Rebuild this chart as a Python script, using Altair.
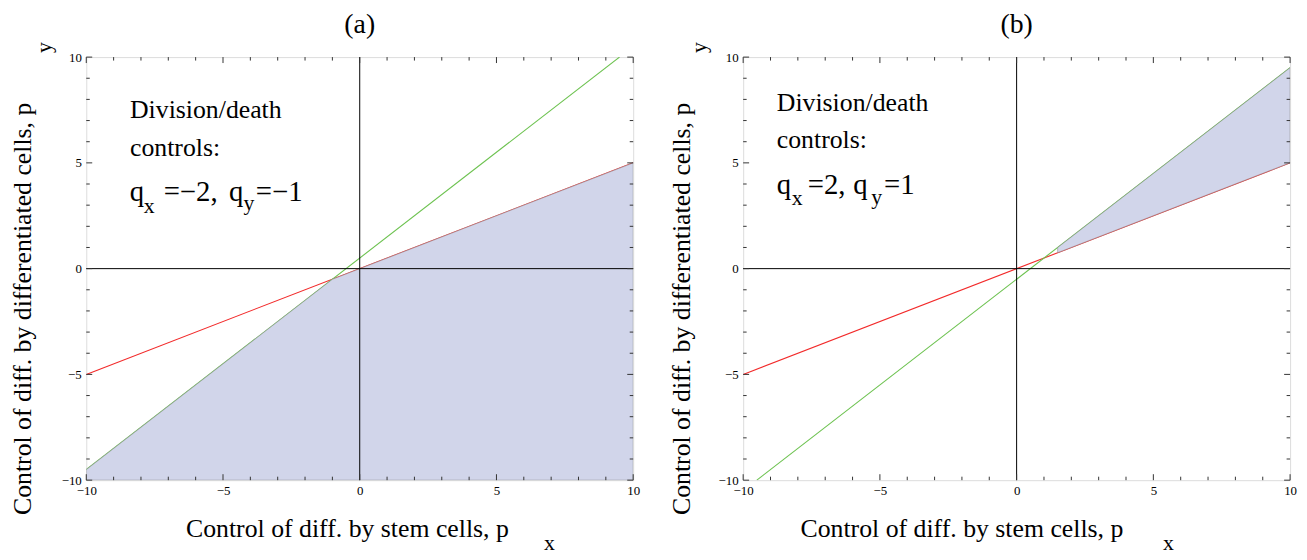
import altair as alt
import pandas as pd

W, H = 552, 427
FONT = "Liberation Serif, Times New Roman, serif"

# ---------------- data ----------------
MAJOR_TICKS = [-10, -5, 0, 5, 10]
MINOR_TICKS = [-9, -8, -7, -6, -4, -3, -2, -1, 1, 2, 3, 4, 6, 7, 8, 9]

# panel (a): q_x=-2, q_y=-1
A_RED_X = [-10, 10]
A_RED_Y = [-5, 5]
A_GREEN_X = [-10, 9.5]
A_GREEN_Y = [-9.5, 10]
A_REGION_X = [-10, -1, 10]
A_REGION_TOP = [-9.5, -0.5, 5]
A_REGION_BOTTOM = [-10, -10, -10]

# panel (b): q_x=2, q_y=1
B_RED_X = [-10, 10]
B_RED_Y = [-5, 5]
B_GREEN_X = [-9.5, 10]
B_GREEN_Y = [-10, 9.5]
B_REGION_X = [1.5, 10]
B_REGION_TOP = [1.0, 9.5]
B_REGION_BOTTOM = [0.75, 5]

# annotation text pieces: (text, x, y, fontSize, align, baseline, angle)
A_TEXTS = [
    ("(a)", 0, 11.5, 28, "center", "middle", 0),
    ("Control of diff. by stem cells, p", -0.45, -12.3, 26, "center", "middle", 0),
    ("x", 6.74, -12.95, 22, "left", "middle", 0),
    ("Control of diff. by differentiated cells, p", -12.3, -1.9, 26, "center", "middle", 270),
    ("y", -11.56, 10.45, 22, "center", "middle", 270),
    ("Division/death", -8.4, 7.1, 26, "left", "alphabetic", 0),
    ("controls:", -8.4, 5.32, 26, "left", "alphabetic", 0),
    ("q", -8.41, 3.21, 29, "left", "alphabetic", 0),
    ("x", -7.90, 2.65, 22, "left", "alphabetic", 0),
    ("=\u22122,", -7.17, 3.21, 29, "left", "alphabetic", 0),
    ("q", -4.78, 3.21, 29, "left", "alphabetic", 0),
    ("y", -4.25, 2.75, 22, "left", "alphabetic", 0),
    ("=\u22121", -3.80, 3.21, 29, "left", "alphabetic", 0),
]
B_TEXTS = [
    ("(b)", 0, 11.5, 28, "center", "middle", 0),
    ("Control of diff. by stem cells, p", -2.0, -12.3, 26, "center", "middle", 0),
    ("x", 5.35, -12.95, 22, "left", "middle", 0),
    ("Control of diff. by differentiated cells, p", -12.25, -1.9, 26, "center", "middle", 270),
    ("y", -11.6, 10.45, 22, "center", "middle", 270),
    ("Division/death", -8.77, 7.47, 26, "left", "alphabetic", 0),
    ("controls:", -8.77, 5.69, 26, "left", "alphabetic", 0),
    ("q", -8.77, 3.54, 29, "left", "alphabetic", 0),
    ("x", -8.22, 3.0, 22, "left", "alphabetic", 0),
    ("=2,", -7.64, 3.54, 29, "left", "alphabetic", 0),
    ("q", -5.97, 3.54, 29, "left", "alphabetic", 0),
    ("y", -5.32, 3.05, 22, "left", "alphabetic", 0),
    ("=1", -4.85, 3.54, 29, "left", "alphabetic", 0),
]

RED = "#f22a2a"
GREEN = "#6cc24f"
FILL = "#cbcfe7"
TICK_COLOR = "#333333"

DOM = [-10, 10]


def xenc():
    return alt.X("x:Q", scale=alt.Scale(domain=DOM, nice=False, zero=False),
                 axis=alt.Axis(values=MAJOR_TICKS, ticks=False, domain=False, grid=False,
                               labelFont=FONT, labelFontSize=13, labelColor="#000",
                               labelPadding=4, title=None, labelFlush=False))


def yenc(field="y"):
    return alt.Y(f"{field}:Q", scale=alt.Scale(domain=DOM, nice=False, zero=False),
                 axis=alt.Axis(values=MAJOR_TICKS, ticks=False, domain=False, grid=False,
                               labelFont=FONT, labelFontSize=13, labelColor="#000",
                               labelPadding=5, title=None, labelFlush=False))


def line_layer(xs, ys, color):
    df = pd.DataFrame({"x": xs, "y": ys})
    return alt.Chart(df).mark_line(color=color, strokeWidth=1.1, clip=True).encode(x=xenc(), y=yenc())


def region_layer(xs, top, bottom):
    df = pd.DataFrame({"x": xs, "y": top, "y2": bottom})
    return alt.Chart(df).mark_area(color=FILL, fillOpacity=0.88, stroke="#8a8a8a",
                                   strokeWidth=1, strokeOpacity=0.55, clip=True).encode(
        x=xenc(), y=yenc(), y2="y2:Q")


def tick_layers():
    layers = []
    for vals, ln in ((MAJOR_TICKS, 6), (MINOR_TICKS, 3.5)):
        df = pd.DataFrame({"x": vals, "y": vals})
        base = alt.Chart(df).mark_rule(color=TICK_COLOR, strokeWidth=1)
        layers.append(base.encode(x=xenc(), y=alt.value(H), y2=alt.value(H - ln)))
        layers.append(base.encode(x=xenc(), y=alt.value(0), y2=alt.value(ln)))
        layers.append(base.encode(y=yenc(), x=alt.value(0), x2=alt.value(ln)))
        layers.append(base.encode(y=yenc(), x=alt.value(W), x2=alt.value(W - ln)))
    return layers


def zero_axes():
    dfv = pd.DataFrame({"x": [0]})
    dfh = pd.DataFrame({"y": [0]})
    v = alt.Chart(dfv).mark_rule(color="#000", strokeWidth=1).encode(x=xenc())
    h = alt.Chart(dfh).mark_rule(color="#000", strokeWidth=1).encode(y=yenc())
    return [v, h]


def text_layers(items):
    layers = []
    for (t, x, y, fs, al, bl, ang) in items:
        df = pd.DataFrame({"x": [x], "y": [y], "t": [t]})
        layers.append(alt.Chart(df).mark_text(font=FONT, fontSize=fs, align=al, baseline=bl,
                                              angle=ang, color="#000").encode(
            x=xenc(), y=yenc(), text="t:N"))
    return layers


def panel(red, green, region, texts):
    layers = [line_layer(*red, RED), line_layer(*green, GREEN), region_layer(*region)]
    layers += zero_axes()
    layers += tick_layers()
    layers += text_layers(texts)
    return alt.layer(*layers).properties(width=W, height=H)


pa = panel((A_RED_X, A_RED_Y), (A_GREEN_X, A_GREEN_Y),
           (A_REGION_X, A_REGION_TOP, A_REGION_BOTTOM), A_TEXTS)
pb = panel((B_RED_X, B_RED_Y), (B_GREEN_X, B_GREEN_Y),
           (B_REGION_X, B_REGION_TOP, B_REGION_BOTTOM), B_TEXTS)

chart = alt.hconcat(pa, pb, spacing=28).properties(
    padding={"left": 2, "top": 0, "right": 2, "bottom": 0}
).configure_view(
    stroke="#808080", strokeWidth=1.5
).configure_axis(
    labelFont=FONT
).configure_text(
    font=FONT
).configure(background="white")

chart.save("out.html", embed_options={"renderer": "svg", "actions": False})
